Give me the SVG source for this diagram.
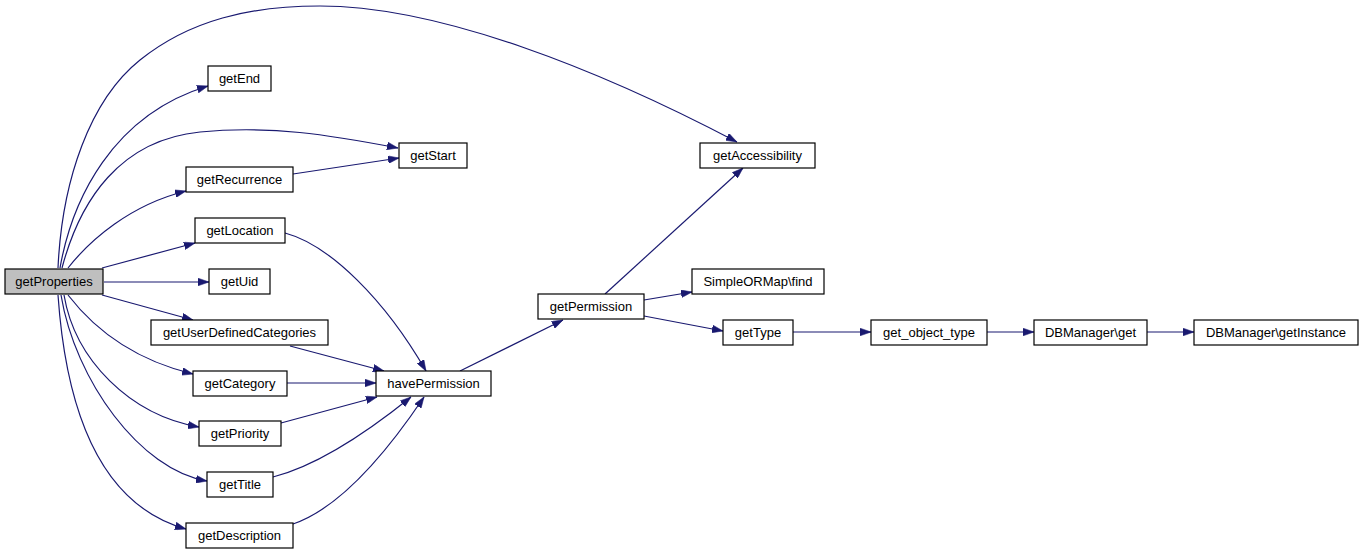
<svg xmlns="http://www.w3.org/2000/svg" width="1364" height="554" viewBox="0 0 1364 554">
<style>
.n rect{fill:#ffffff;stroke:#000000;stroke-width:1.2}
.n text{font-family:"Liberation Sans",Arial,sans-serif;font-size:13px;fill:#000000;text-anchor:middle}
#edges path{fill:none;stroke:#191970;stroke-width:1.2;marker-end:url(#ah)}
</style>
<defs>
<marker id="ah" viewBox="0 0 10 7" refX="10" refY="3.5" markerWidth="11" markerHeight="8" markerUnits="userSpaceOnUse" orient="auto">
<path d="M0,0 L10,3.5 L0,7 Z" fill="#191970" stroke="#191970" stroke-width="0.5"/>
</marker>
</defs>
<rect width="1364" height="554" fill="#ffffff"/>
<g id="edges">
<path d="M58,268 C62,180 90,100 140,60 C190,20 250,6 320,6 C440,6 600,70 737,142"/>
<path d="M60,268 C72,200 112,115 208,86"/>
<path d="M62,268 C80,200 120,140 200,132 C270,125 330,135 398,148"/>
<path d="M68,268 C90,240 130,205 186,191"/>
<path d="M102,268 L195,243"/>
<path d="M104,282 L209,282"/>
<path d="M102,295 L193,320"/>
<path d="M68,295 C95,330 135,360 193,374"/>
<path d="M64,295 C75,360 130,415 199,427"/>
<path d="M61,295 C75,380 140,470 207,481"/>
<path d="M58,295 C66,410 100,505 186,529"/>
<path d="M293,174 L399,158"/>
<path d="M285,233 C330,245 385,300 426,371"/>
<path d="M290,346 L384,371"/>
<path d="M287,383 L376,383"/>
<path d="M281,423 L377,397"/>
<path d="M273,477 C320,465 370,430 411,397"/>
<path d="M293,524 C340,508 385,455 424,397"/>
<path d="M460,371 L563,320"/>
<path d="M605,294 L743,168"/>
<path d="M644,300 L692,292"/>
<path d="M644,316 L723,331"/>
<path d="M793,332 L871,332"/>
<path d="M987,332 L1034,332"/>
<path d="M1147,332 L1194,332"/>
</g>
<g id="getProperties" class="n"><rect x="5" y="269" width="98" height="25" style="fill:#bfbfbf"/><text x="54" y="286">getProperties</text></g>
<g id="getEnd" class="n"><rect x="208" y="66" width="63" height="25"/><text x="239.5" y="83">getEnd</text></g>
<g id="getStart" class="n"><rect x="399" y="143" width="68" height="25"/><text x="433" y="160">getStart</text></g>
<g id="getRecurrence" class="n"><rect x="186" y="167" width="107" height="25"/><text x="239.5" y="184">getRecurrence</text></g>
<g id="getLocation" class="n"><rect x="195" y="218" width="90" height="25"/><text x="240" y="235">getLocation</text></g>
<g id="getUid" class="n"><rect x="209" y="269" width="61" height="25"/><text x="239.5" y="286">getUid</text></g>
<g id="getUserDefinedCategories" class="n"><rect x="151" y="320" width="177" height="25"/><text x="239.5" y="337">getUserDefinedCategories</text></g>
<g id="getCategory" class="n"><rect x="193" y="371" width="94" height="25"/><text x="240" y="388">getCategory</text></g>
<g id="getPriority" class="n"><rect x="199" y="421" width="82" height="25"/><text x="240" y="438">getPriority</text></g>
<g id="getTitle" class="n"><rect x="207" y="472" width="66" height="25"/><text x="240" y="489">getTitle</text></g>
<g id="getDescription" class="n"><rect x="186" y="523" width="107" height="25"/><text x="239.5" y="540">getDescription</text></g>
<g id="havePermission" class="n"><rect x="376" y="371" width="115" height="25"/><text x="433.5" y="388">havePermission</text></g>
<g id="getAccessibility" class="n"><rect x="700" y="143" width="115" height="25"/><text x="757.5" y="160">getAccessibility</text></g>
<g id="SimpleORMap_find" class="n"><rect x="692" y="269" width="132" height="25"/><text x="758" y="286">SimpleORMap\find</text></g>
<g id="getPermission" class="n"><rect x="538" y="294" width="106" height="25"/><text x="591" y="311">getPermission</text></g>
<g id="getType" class="n"><rect x="723" y="320" width="70" height="25"/><text x="758" y="337">getType</text></g>
<g id="get_object_type" class="n"><rect x="871" y="320" width="116" height="25"/><text x="929" y="337">get_object_type</text></g>
<g id="DBManager_get" class="n"><rect x="1034" y="320" width="113" height="25"/><text x="1090.5" y="337">DBManager\get</text></g>
<g id="DBManager_getInstance" class="n"><rect x="1194" y="320" width="164" height="25"/><text x="1276" y="337">DBManager\getInstance</text></g>
</svg>
